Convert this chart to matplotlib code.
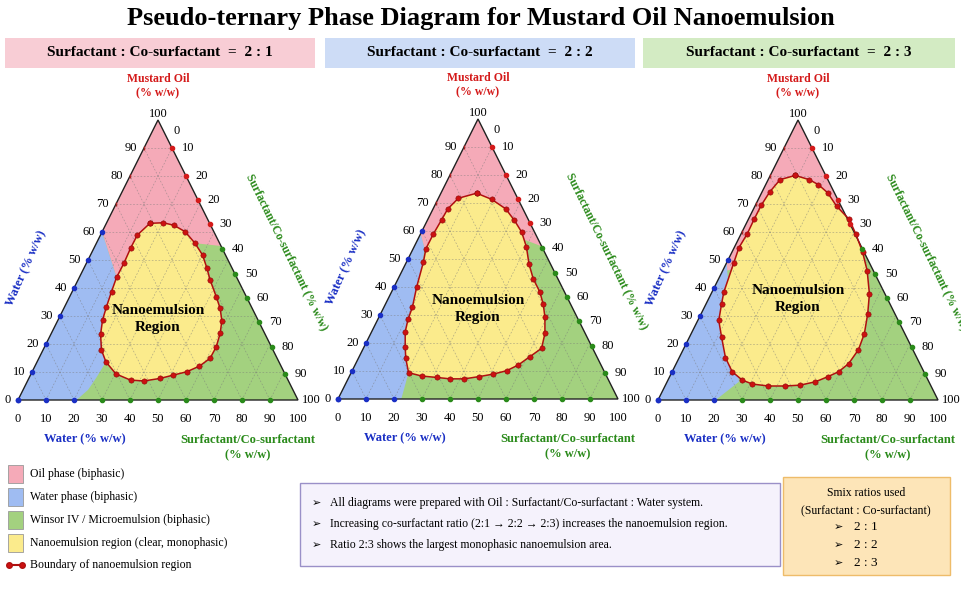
import numpy as np
import matplotlib.pyplot as plt
from matplotlib.patches import Polygon, Rectangle

plt.rcParams['font.family'] = ['Liberation Serif', 'DejaVu Serif']

# --- data (triangle coords: x along base 0..100, y = oil % 0..100) ---
ratios = ['2 : 1', '2 : 2', '2 : 3']

blob1 = [(47.1,63.1),(51.9,63.3),(55.7,62.4),(59.7,60.1),(63.2,56.0),(65.9,51.8),(67.4,47.3),
         (68.6,42.9),(70.8,36.9),(72.2,32.7),(72.8,28.3),(72.2,23.8),(70.8,19.0),(68.6,14.9),
         (64.8,12.1),(60.3,10.1),(55.5,8.9),(50.7,7.7),(45.0,6.8),(40.2,7.1),(35.0,9.3),
         (31.4,13.6),(29.8,17.9),(29.5,23.5),(30.2,28.6),(31.6,33.3),(33.4,38.7),(35.2,43.8),
         (37.8,48.8),(40.2,54.2),(42.6,58.9)]
blob2 = [(49.5,73.5),(54.9,71.3),(59.9,67.9),(63.0,63.8),(65.6,59.6),(67.3,54.3),(68.2,48.3),
         (69.7,43.0),(72.1,38.2),(73.3,33.8),(73.9,29.3),(73.9,23.4),(72.7,18.1),(68.5,15.1),
         (64.3,12.1),(60.2,10.1),(55.5,8.9),(50.4,8.0),(45.1,7.2),(40.0,7.2),(35.3,7.7),
         (29.9,8.2),(25.2,9.4),(24.2,14.5),(24.0,18.6),(24.0,24.0),(25.0,28.4),(26.6,32.9),
         (28.1,40.0),(30.5,48.9),(31.4,53.7),(34.1,59.0),(37.0,64.0),(39.2,67.9),(43.0,71.7)]
blob3 = [(49.0,80.2),(54.0,78.7),(57.3,76.9),(60.6,74.0),(63.8,69.2),(68.3,64.5),(70.7,59.2),
         (73.1,52.7),(74.7,46.2),(75.5,37.9),(74.9,30.8),(73.7,23.7),(71.6,18.0),(68.1,13.0),
         (64.5,10.1),(60.6,8.3),(56.2,6.5),(50.7,5.3),(45.4,5.0),(39.4,5.0),(33.7,5.7),
         (30.1,7.1),(26.5,10.1),(24.1,15.1),(22.7,22.5),(21.7,28.4),(22.7,34.3),(23.5,38.5),
         (27.1,49.1),(28.9,54.4),(31.9,59.4),(34.3,64.5),(36.9,69.6),(39.9,74.3),(43.6,78.7)]
blobs = [blob1, blob2, blob3]

oil_regions = [
    [(50,100),(30,60),(35.2,43.8),(63.2,56.0),(72.5,55)],
    [(50,100),(29.5,59),(30.9,53.7),(67.1,56.7),(72.8,54.5)],
    [(50,100),(24.6,49.2),(24.7,46.2),(70.7,59.2),(70.4,59.2)],
]
water_regions = [
    [(0,0),(30,60),(35.2,43.8),(31.4,13.6),(28,8),(25,3.6),(20.9,0)],
    [(0,0),(29.5,59),(30.9,53.7),(25.2,9.4),(22.6,0)],
    [(0,0),(24.6,49.2),(24.7,46.2),(28.9,6.5),(20.6,0)],
]
left_cut = [60, 60, 50]      # blue markers up to this water tick
right_cut = [55, 55, 59]     # green markers below this height
base_cut = [20, 20, 20]      # blue markers on base up to here
label_y = [29, 32, 36]       # blob label height

left_labels = [str(v) for v in range(0, 100, 10)]
base_labels = [str(v) for v in range(0, 110, 10)]
right_y = [96, 90, 80, 71.5, 63, 54, 45, 36.3, 27.7, 18.8, 9.3, 0]
right_labels = [
    ['0','10','20','20','30','40','50','60','70','80','90','100'],
    ['0','10','20','20','30','40','50','60','70','80','90','100'],
    ['0','10','20','30','30','40','50','60','70','80','90','100'],
]
legend_items = ['Oil phase (biphasic)', 'Water phase (biphasic)',
                'Winsor IV / Microemulsion (biphasic)', 'Nanoemulsion region (clear, monophasic)']
notes = ['All diagrams were prepared with Oil : Surfactant/Co-surfactant : Water system.',
         'Increasing co-surfactant ratio (2:1 \u2192 2:2 \u2192 2:3) increases the nanoemulsion region.',
         'Ratio 2:3 shows the largest monophasic nanoemulsion area.']

PINK, BLUE, GREEN, YELLOW = '#f5aab8', '#9fbcf2', '#a3d17f', '#fbeb8c'
BAND = ['#f8cdd5', '#cddcf6', '#d3ebc3']
C_OIL, C_WAT, C_SUR = '#d41a1a', '#1a2fc4', '#2a8a1a'

W, H = 962, 593
fig = plt.figure(figsize=(9.62, 5.93), dpi=100)
fig.text(0.5, 1 - 18/H, 'Pseudo-ternary Phase Diagram for Mustard Oil Nanoemulsion',
         ha='center', va='center', fontsize=19, fontweight='bold')

# header bands
bands = [(5, 315), (325, 635), (643, 955)]
for i, (x0, x1) in enumerate(bands):
    fig.patches.append(Rectangle((x0/W, 1-68/H), (x1-x0)/W, 30/H, transform=fig.transFigure,
                                 facecolor=BAND[i], edgecolor='none'))
    fig.text((x0+x1)/2/W, 1-53/H, 'Surfactant : Co-surfactant  =  ' + ratios[i],
             ha='center', va='center', fontsize=11, fontweight='bold')

origins = [(18, 400), (338, 399), (658, 400)]
s = 2.8
tri = np.array([(0,0),(100,0),(50,100)])
for i, (lx, by) in enumerate(origins):
    ax = fig.add_axes([(lx-5*s)/W, (H-(by+5*s))/H, 110*s/W, 110*s/H])
    ax.set_xlim(-5, 105); ax.set_ylim(-5, 105); ax.axis('off')
    clip = Polygon(tri, closed=True, transform=ax.transData)
    ax.add_patch(Polygon(tri, closed=True, facecolor=GREEN, edgecolor='none'))
    for poly, col in [(oil_regions[i], PINK), (water_regions[i], BLUE), (blobs[i], YELLOW)]:
        p = Polygon(poly, closed=True, facecolor=col, edgecolor='none')
        ax.add_patch(p); p.set_clip_path(clip)
    # grid
    for k in range(10, 100, 10):
        kw = dict(color='#777777', lw=0.4, ls=(0, (3, 3)), alpha=0.7)
        ax.plot([k/2, 100-k/2], [k, k], **kw)
        ax.plot([k, k+50*(100-k)/100], [0, 100-k], **kw)
        ax.plot([k, k/2], [0, k], **kw)
    ax.add_patch(Polygon(tri, closed=True, fill=False, edgecolor='#222222', lw=1.0))
    # boundary curve
    b = np.array(blobs[i] + [blobs[i][0]])
    ax.plot(b[:,0], b[:,1], color='#b01010', lw=1.1, marker='o', ms=3.8,
            mfc='#cc1111', mec='#8a0a0a', mew=0.4)
    # left edge ticks
    for k, lab in zip(range(0, 100, 10), left_labels):
        c = C_WAT if k <= left_cut[i] else '#aa2222'
        ax.plot(k/2, k, marker='o' if k <= left_cut[i] else '|', color=c, ms=3)
        ax.text(k/2-2.5, k, lab, ha='right', va='center', fontsize=9)
    ax.text(50, 102, '100', ha='center', va='center', fontsize=9)
    # base ticks
    for k, lab in zip(range(0, 110, 10), base_labels):
        c = C_WAT if k <= base_cut[i] else C_SUR
        if k < 100:
            ax.plot(k, 0, marker='o', color=c, ms=3)
        ax.text(k, -4.5, lab, ha='center', va='top', fontsize=9)
    # right edge ticks
    for y, lab in zip(right_y, right_labels[i]):
        x = 100 - y/2
        if 0 < y < 95:
            c = C_SUR if y < right_cut[i] else C_OIL
            ax.plot(x, y, marker='o', color=c, ms=3)
        ax.text(x+3.5 if y > 0 else x+1.5, y, lab, ha='left', va='center', fontsize=9)
    ax.text(50, 112, 'Mustard Oil\n(% w/w)', ha='center', va='center', color=C_OIL,
            fontsize=8.5, fontweight='bold', linespacing=1.3)
    ax.text(3, 47, 'Water (% w/w)', rotation=66, ha='center', va='center', color=C_WAT,
            fontsize=9, fontweight='bold')
    ax.text(96, 53, 'Surfactant/Co-surfactant (% w/w)', rotation=-64, ha='center', va='center',
            color=C_SUR, fontsize=8.5, fontweight='bold')
    ax.text(24, -14, 'Water (% w/w)', ha='center', va='center', color=C_WAT,
            fontsize=9, fontweight='bold')
    ax.text(82, -17, 'Surfactant/Co-surfactant\n(% w/w)', ha='center', va='center',
            color=C_SUR, fontsize=9, fontweight='bold', linespacing=1.4)
    ax.text(50, label_y[i], 'Nanoemulsion\nRegion', ha='center', va='center',
            fontsize=11, fontweight='bold', linespacing=1.4)

# legend
for j, (lab, col) in enumerate(zip(legend_items, [PINK, BLUE, GREEN, YELLOW])):
    y = 474 + j*23
    fig.patches.append(Rectangle((8/W, 1-(y+9)/H), 15/W, 18/H, transform=fig.transFigure,
                                 facecolor=col, edgecolor='#999999', lw=0.6))
    fig.text(30/W, 1-y/H, lab, ha='left', va='center', fontsize=8.5)
fig.lines.append(plt.Line2D([9/W, 22/W], [1-565/H]*2, transform=fig.transFigure,
                            color='#b01010', lw=1.5, marker='o', ms=4, mfc='#cc1111'))
fig.text(30/W, 1-565/H, 'Boundary of nanoemulsion region', ha='left', va='center', fontsize=8.5)

# notes box
fig.patches.append(Rectangle((300/W, 1-566/H), 480/W, 83/H, transform=fig.transFigure,
                             facecolor='#f5f2fc', edgecolor='#9a90c8', lw=1))
for j, t in enumerate(notes):
    y = 503 + j*21
    fig.text(312/W, 1-y/H, '\u27a2', ha='left', va='center', fontsize=8,
             family=['DejaVu Sans'])
    fig.text(330/W, 1-y/H, t, ha='left', va='center', fontsize=8.5)

# smix box
fig.patches.append(Rectangle((783/W, 1-575/H), 167/W, 98/H, transform=fig.transFigure,
                             facecolor='#fde5b8', edgecolor='#eebc6a', lw=1))
fig.text(866/W, 1-493/H, 'Smix ratios used', ha='center', va='center', fontsize=8.5)
fig.text(866/W, 1-511/H, '(Surfactant : Co-surfactant)', ha='center', va='center', fontsize=8.5)
for j, r in enumerate(ratios):
    y = 527 + j*18
    fig.text(838/W, 1-y/H, '\u27a2', ha='center', va='center', fontsize=8, family=['DejaVu Sans'])
    fig.text(866/W, 1-y/H, r, ha='center', va='center', fontsize=9.5)

fig.savefig('out.png', dpi=100)
